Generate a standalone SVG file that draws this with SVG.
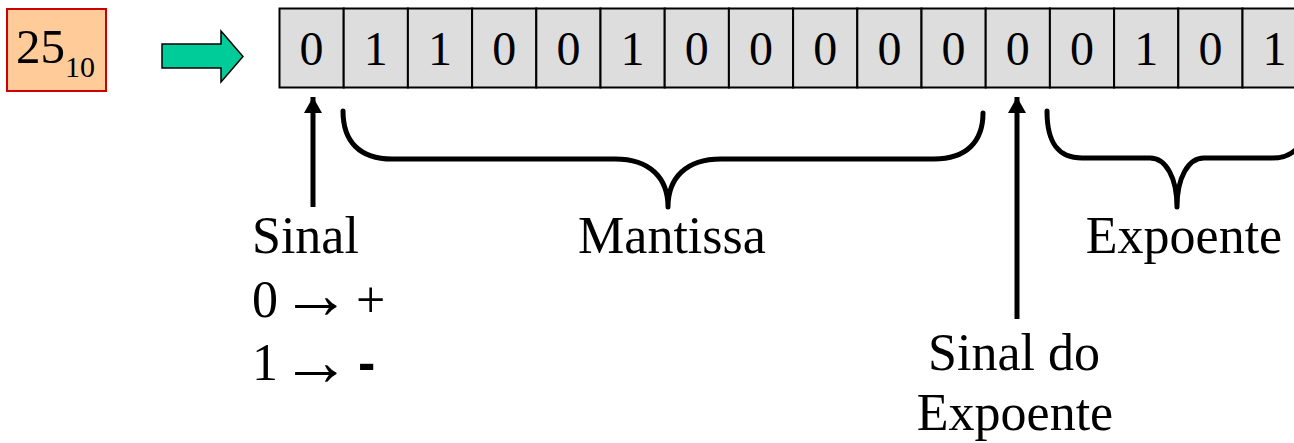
<svg xmlns="http://www.w3.org/2000/svg" width="1294" height="443" viewBox="0 0 1294 443">
  <style>
    .serif { font-family: "Liberation Serif", "Times New Roman", serif; fill: #000; }
    .bit { font-size: 48px; text-anchor: middle; }
    .label { font-size: 52px; }
    .arr { font-size: 70px; }
    .cell { fill: #DDDDDD; stroke: #000; stroke-width: 2; }
    .brace { fill: none; stroke: #000; stroke-width: 5; stroke-linecap: round; stroke-linejoin: round; }
    .pointer { fill: none; stroke: #000; stroke-width: 5; }
  </style>
  <defs>
    <marker id="head" markerUnits="userSpaceOnUse" markerWidth="20" markerHeight="18" refX="16" refY="9" orient="auto">
      <path d="M0,0 L16,9 L0,18 Z" fill="#000"/>
    </marker>
  </defs>

  <rect width="1294" height="443" fill="#fff"/>

  <!-- decimal input value -->
  <g id="decimal">
    <rect x="7" y="9" width="99" height="82" fill="#FFCC99" stroke="#CC0000" stroke-width="2"/>
    <text class="serif" x="16" y="63" font-size="49">25<tspan font-size="30" dy="14">10</tspan></text>
  </g>

  <!-- conversion arrow -->
  <g id="convert">
    <path d="M162,44 L221,44 L221,31 L243,56.5 L221,82 L221,68 L162,68 Z" fill="#00CC99" stroke="#000" stroke-width="1.5"/>
  </g>

  <!-- bit register -->
  <g id="register">
    <rect class="cell" x="279.5" y="8.5" width="64.2" height="79"/>
    <rect class="cell" x="343.7" y="8.5" width="64.2" height="79"/>
    <rect class="cell" x="407.9" y="8.5" width="64.2" height="79"/>
    <rect class="cell" x="472.1" y="8.5" width="64.2" height="79"/>
    <rect class="cell" x="536.3" y="8.5" width="64.2" height="79"/>
    <rect class="cell" x="600.5" y="8.5" width="64.2" height="79"/>
    <rect class="cell" x="664.7" y="8.5" width="64.2" height="79"/>
    <rect class="cell" x="728.9" y="8.5" width="64.2" height="79"/>
    <rect class="cell" x="793.1" y="8.5" width="64.2" height="79"/>
    <rect class="cell" x="857.3" y="8.5" width="64.2" height="79"/>
    <rect class="cell" x="921.5" y="8.5" width="64.2" height="79"/>
    <rect class="cell" x="985.7" y="8.5" width="64.2" height="79"/>
    <rect class="cell" x="1049.9" y="8.5" width="64.2" height="79"/>
    <rect class="cell" x="1114.1" y="8.5" width="64.2" height="79"/>
    <rect class="cell" x="1178.3" y="8.5" width="64.2" height="79"/>
    <rect class="cell" x="1242.5" y="8.5" width="64.2" height="79"/>
    <g class="serif bit">
      <text x="311.6" y="65">0</text>
      <text x="375.8" y="65">1</text>
      <text x="440" y="65">1</text>
      <text x="504.2" y="65">0</text>
      <text x="568.4" y="65">0</text>
      <text x="632.6" y="65">1</text>
      <text x="696.8" y="65">0</text>
      <text x="761" y="65">0</text>
      <text x="825.2" y="65">0</text>
      <text x="889.4" y="65">0</text>
      <text x="953.6" y="65">0</text>
      <text x="1017.8" y="65">0</text>
      <text x="1082" y="65">0</text>
      <text x="1146.2" y="65">1</text>
      <text x="1210.4" y="65">0</text>
      <text x="1274.6" y="65">1</text>
    </g>
  </g>

  <!-- pointers and braces -->
  <g id="connectors">
    <line class="pointer" x1="313" y1="207" x2="313" y2="97" marker-end="url(#head)"/>
    <line class="pointer" x1="1017" y1="319" x2="1017" y2="97" marker-end="url(#head)"/>
    <path class="brace" d="M343,111 C343,142 360,159 392,159 L615,159 C650,159 668,178 668,207 C668,178 686,159 721,159 L934,159 C966,159 983,142 983,113"/>
    <path class="brace" d="M1047,111 C1047,143 1058,158 1082,158 L1150,158 C1166,158 1177,178 1177,207 C1177,178 1188,158 1204,158 L1272,158 C1296,158 1307,143 1307,111"/>
  </g>

  <!-- labels -->
  <g id="sign">
    <text class="serif label" x="252" y="253">Sinal</text>
    <text class="serif label" x="252" y="317">0<tspan class="arr" x="281" y="318">→</tspan><tspan x="356" y="317">+</tspan></text>
    <text class="serif label" x="252" y="380">1<tspan class="arr" x="281" y="385">→</tspan><tspan x="358" y="380" font-family="Liberation Sans, Arial, sans-serif" font-weight="bold">-</tspan></text>
  </g>
  <g id="mantissa">
    <text class="serif label" x="672" y="253" text-anchor="middle">Mantissa</text>
  </g>
  <g id="exponent">
    <text class="serif label" x="1184" y="253" text-anchor="middle">Expoente</text>
  </g>
  <g id="exponent-sign">
    <text class="serif label" x="1014" y="370" text-anchor="middle">Sinal do</text>
    <text class="serif label" x="1015" y="430" text-anchor="middle">Expoente</text>
  </g>
</svg>
